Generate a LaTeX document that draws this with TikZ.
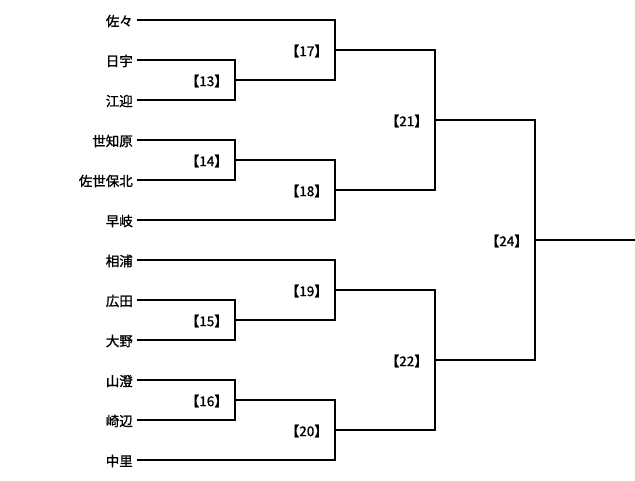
\documentclass[tikz,border=0pt]{standalone}
\usepackage{fontspec}
\newfontfamily\jp[FakeBold=1.2]{Noto Sans CJK JP}
\begin{document}
\begin{tikzpicture}[x=1pt,y=-1pt,
  wire/.style={line width=2pt},
  team/.style={anchor=east,inner sep=0pt,font=\jp\fontsize{13.5}{15}\selectfont},
  lab/.style={anchor=east,inner sep=0pt,font=\jp\fontsize{13.5}{15}\selectfont}]
\useasboundingbox (0,0) rectangle (635,480);
% teams
\foreach \n/\t [count=\i] in {佐々,日宇,江迎,世知原,佐世保北,早岐,相浦,広田,大野,山澄,崎辺,中里}{
  \node[team] (n\i) at (133,{\i*40-19}) {\t};
  \coordinate (t\i) at (137,{\i*40-20});
}
% match junctions
\coordinate (m13) at (235,80);
\coordinate (m14) at (235,160);
\coordinate (m15) at (235,320);
\coordinate (m16) at (235,400);
\coordinate (m17) at (335,50);
\coordinate (m18) at (335,190);
\coordinate (m19) at (335,290);
\coordinate (m20) at (335,430);
\coordinate (m21) at (435,120);
\coordinate (m22) at (435,360);
\coordinate (m24) at (535,240);
\coordinate (fin) at (635,240);
% labels
\foreach \m in {13,14,15,16,17,18,19,20,21,22,24}{
  \node[lab] at ([xshift=-7pt,yshift=-1pt]m\m) {【\m】};
}
% connectors
\draw[wire] (t2) -| (m13) |- (t3);
\draw[wire] (t4) -| (m14) |- (t5);
\draw[wire] (t8) -| (m15) |- (t9);
\draw[wire] (t10) -| (m16) |- (t11);
\draw[wire] (t1) -| (m17) |- (m13);
\draw[wire] (m14) -| (m18) |- (t6);
\draw[wire] (t7) -| (m19) |- (m15);
\draw[wire] (m16) -| (m20) |- (t12);
\draw[wire] (m17) -| (m21) |- (m18);
\draw[wire] (m19) -| (m22) |- (m20);
\draw[wire] (m21) -| (m24) |- (m22);
\draw[wire] (m24) -- (fin);
\end{tikzpicture}
\end{document}
